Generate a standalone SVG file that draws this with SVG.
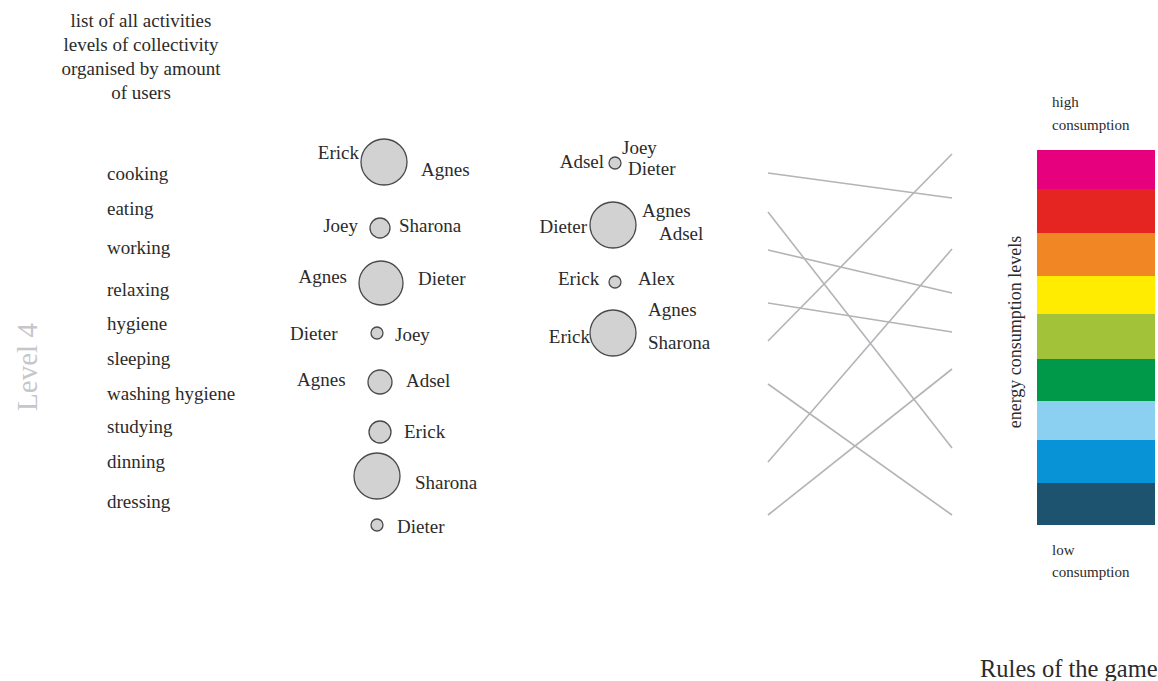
<svg xmlns="http://www.w3.org/2000/svg" width="1158" height="681" viewBox="0 0 1158 681">
<style>
text{font-family:"Liberation Serif","Times New Roman",serif;fill:#2b2b2b;font-size:19px}
.h{text-anchor:middle}
.e{text-anchor:end}
.s{font-size:15px}
.c{fill:#d2d2d2;stroke:#4a4a4a;stroke-width:1.3}
.ln{stroke:#b4b4b8;stroke-width:1.6;fill:none}
</style>
<rect width="1158" height="681" fill="#fff"/>
<g id="header">
<text class="h" x="141" y="27">list of all activities</text>
<text class="h" x="141" y="51">levels of collectivity</text>
<text class="h" x="141" y="75">organised by amount</text>
<text class="h" x="141" y="99">of users</text>
</g>
<g id="level"><text transform="translate(37,367) rotate(-90)" class="h" style="font-size:29px;fill:#c6c6cb">Level 4</text></g>
<g id="activities">
<text x="107" y="180">cooking</text>
<text x="107" y="215">eating</text>
<text x="107" y="254">working</text>
<text x="107" y="296">relaxing</text>
<text x="107" y="330">hygiene</text>
<text x="107" y="365">sleeping</text>
<text x="107" y="400">washing hygiene</text>
<text x="107" y="433">studying</text>
<text x="107" y="468">dinning</text>
<text x="107" y="508">dressing</text>
</g>
<g id="col1">
<g id="c1a"><circle class="c" cx="384" cy="162" r="23"/><text class="e" x="359" y="159">Erick</text><text x="421" y="176">Agnes</text></g>
<g id="c1b"><circle class="c" cx="380" cy="228" r="10"/><text class="e" x="358" y="232">Joey</text><text x="399" y="232">Sharona</text></g>
<g id="c1c"><circle class="c" cx="381" cy="283" r="22"/><text class="e" x="347" y="283">Agnes</text><text x="418" y="285">Dieter</text></g>
<g id="c1d"><circle class="c" cx="377" cy="333" r="6"/><text x="290" y="340">Dieter</text><text x="395" y="341">Joey</text></g>
<g id="c1e"><circle class="c" cx="380" cy="382" r="12"/><text x="297" y="386">Agnes</text><text x="406" y="387">Adsel</text></g>
<g id="c1f"><circle class="c" cx="380" cy="432" r="11"/><text x="404" y="438">Erick</text></g>
<g id="c1g"><circle class="c" cx="377" cy="476" r="23"/><text x="415" y="489">Sharona</text></g>
<g id="c1h"><circle class="c" cx="377" cy="525" r="6"/><text x="397" y="533">Dieter</text></g>
</g>
<g id="col2">
<g id="c2a"><circle class="c" cx="615" cy="163" r="6"/><text class="e" x="604" y="168">Adsel</text><text x="622" y="154">Joey</text><text x="628" y="175">Dieter</text></g>
<g id="c2b"><circle class="c" cx="613" cy="225" r="23"/><text class="e" x="587" y="233">Dieter</text><text x="642" y="217">Agnes</text><text x="659" y="240">Adsel</text></g>
<g id="c2c"><circle class="c" cx="615" cy="282" r="6"/><text x="558" y="285">Erick</text><text x="638" y="285">Alex</text></g>
<g id="c2d"><circle class="c" cx="613" cy="333" r="23"/><text class="e" x="590" y="343">Erick</text><text x="648" y="316">Agnes</text><text x="648" y="349">Sharona</text></g>
</g>
<g id="connectors">
<line class="ln" x1="768" y1="173" x2="952" y2="198"/>
<line class="ln" x1="768" y1="212" x2="952" y2="448"/>
<line class="ln" x1="768" y1="250" x2="952" y2="293"/>
<line class="ln" x1="768" y1="303" x2="952" y2="332"/>
<line class="ln" x1="768" y1="341" x2="952" y2="154"/>
<line class="ln" x1="768" y1="384" x2="952" y2="515"/>
<line class="ln" x1="768" y1="462" x2="952" y2="249"/>
<line class="ln" x1="768" y1="515" x2="952" y2="369"/>
</g>
<g id="scale">
<rect x="1037" y="150" width="118" height="40" fill="#e6007e"/>
<rect x="1037" y="189" width="118" height="45" fill="#e52521"/>
<rect x="1037" y="233" width="118" height="44" fill="#f08624"/>
<rect x="1037" y="276" width="118" height="39" fill="#ffec00"/>
<rect x="1037" y="314" width="118" height="46" fill="#a2c23a"/>
<rect x="1037" y="359" width="118" height="43" fill="#00994a"/>
<rect x="1037" y="401" width="118" height="40" fill="#8bd0f0"/>
<rect x="1037" y="440" width="118" height="44" fill="#0893d6"/>
<rect x="1037" y="483" width="118" height="42" fill="#1d536f"/>
<text class="s" x="1052" y="107">high</text>
<text class="s" x="1052" y="130">consumption</text>
<text class="s" x="1052" y="555">low</text>
<text class="s" x="1052" y="577">consumption</text>
<text transform="translate(1021,332) rotate(-90)" class="h" style="font-size:18px">energy consumption levels</text>
</g>
<g id="footer"><text x="980" y="677" style="font-size:24.5px">Rules of the game</text></g>
</svg>
